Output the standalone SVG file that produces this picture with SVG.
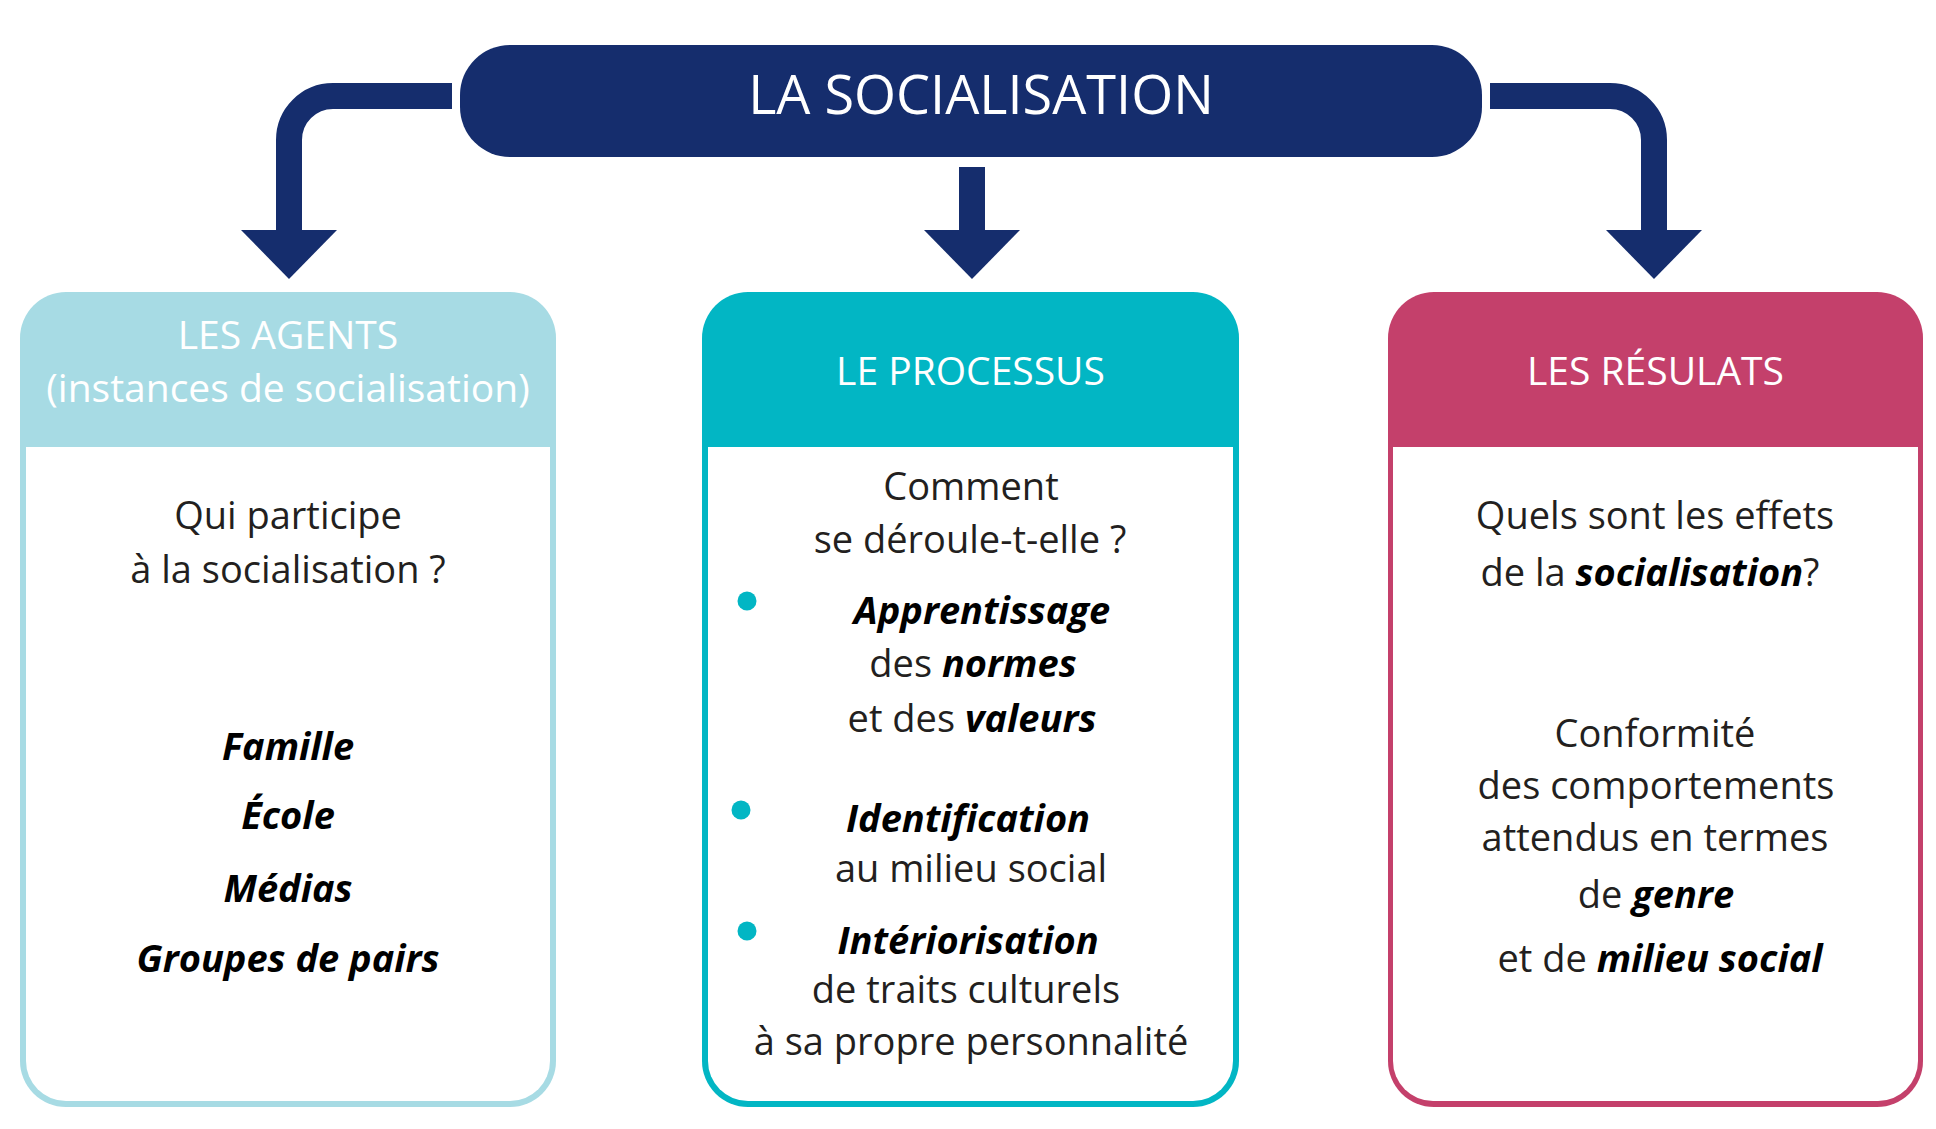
<svg xmlns="http://www.w3.org/2000/svg" width="1936" height="1129" viewBox="0 0 1936 1129">
<style>
.hd{font-family:"Open Sans","Liberation Sans",sans-serif;font-size:39px;fill:#ffffff;text-anchor:middle}
.bd{font-family:"Open Sans","Liberation Sans",sans-serif;font-size:38px;fill:#231f20;text-anchor:middle}
.bi{font-weight:bold;font-style:italic;fill:#000000}
.conn{fill:none;stroke:#152d6d;stroke-width:26}
.head{fill:#152d6d}
.dot{fill:#02b6c4}
</style>
<rect width="1936" height="1129" fill="#ffffff"/>
<g id="connectors">
  <path class="conn" d="M452,96 H333 A44,44 0 0 0 289,140 V232"/>
  <polygon class="head" points="241,230 337,230 289,279"/>
  <path class="conn" d="M972,167 V232"/>
  <polygon class="head" points="924,230 1020,230 972,279"/>
  <path class="conn" d="M1490,96 H1610 A44,44 0 0 1 1654,140 V232"/>
  <polygon class="head" points="1606,230 1702,230 1654,279"/>
</g>
<g id="title">
  <rect x="460" y="45" width="1022" height="112" rx="50" ry="50" fill="#152d6d"/>
  <text x="981" y="114" font-family="'Open Sans','Liberation Sans',sans-serif" font-size="54" fill="#ffffff" text-anchor="middle">LA SOCIALISATION</text>
</g>
<g id="agents">
  <rect x="20" y="292" width="536" height="815" rx="46" ry="46" fill="#a7dbe4"/>
  <path d="M26,447 H550 V1061 A40,40 0 0 1 510,1101 H66 A40,40 0 0 1 26,1061 Z" fill="#ffffff"/>
  <text class="hd" x="288" y="349">LES AGENTS</text>
  <text class="hd" x="288" y="402" font-size="40">(instances de socialisation)</text>
  <text class="bd" x="288" y="529">Qui participe</text>
  <text class="bd" x="288" y="583">à la socialisation ?</text>
  <text class="bd bi" x="288" y="760">Famille</text>
  <text class="bd bi" x="288" y="829">École</text>
  <text class="bd bi" x="288" y="902">Médias</text>
  <text class="bd bi" x="288" y="972">Groupes de pairs</text>
</g>
<g id="processus">
  <rect x="702" y="292" width="537" height="815" rx="46" ry="46" fill="#02b6c4"/>
  <path d="M708,447 H1233 V1061 A40,40 0 0 1 1193,1101 H748 A40,40 0 0 1 708,1061 Z" fill="#ffffff"/>
  <text class="hd" x="970.5" y="385">LE PROCESSUS</text>
  <text class="bd" x="971" y="500">Comment</text>
  <text class="bd" x="970" y="553">se déroule-t-elle ?</text>
  <circle class="dot" cx="747" cy="601" r="9.5"/>
  <text class="bd bi" x="982" y="624">Apprentissage</text>
  <text class="bd" x="973" y="677">des <tspan class="bi">normes</tspan></text>
  <text class="bd" x="972" y="732">et des <tspan class="bi">valeurs</tspan></text>
  <circle class="dot" cx="741" cy="810" r="9.5"/>
  <text class="bd bi" x="968" y="832">Identification</text>
  <text class="bd" x="971" y="882">au milieu social</text>
  <circle class="dot" cx="747" cy="931" r="9.5"/>
  <text class="bd bi" x="968" y="954">Intériorisation</text>
  <text class="bd" x="966" y="1003">de traits culturels</text>
  <text class="bd" x="971" y="1055">à sa propre personnalité</text>
</g>
<g id="resultats">
  <rect x="1388" y="292" width="535" height="815" rx="46" ry="46" fill="#c4406b"/>
  <path d="M1393,447 H1918 V1061 A40,40 0 0 1 1878,1101 H1433 A40,40 0 0 1 1393,1061 Z" fill="#ffffff"/>
  <text class="hd" x="1655.5" y="385">LES RÉSULATS</text>
  <text class="bd" x="1655" y="529">Quels sont les effets</text>
  <text class="bd" x="1650" y="586">de la <tspan class="bi">socialisation</tspan>?</text>
  <text class="bd" x="1655" y="747">Conformité</text>
  <text class="bd" x="1656" y="799">des comportements</text>
  <text class="bd" x="1655" y="851">attendus en termes</text>
  <text class="bd" x="1656" y="908">de <tspan class="bi">genre</tspan></text>
  <text class="bd" x="1660" y="972">et de <tspan class="bi">milieu social</tspan></text>
</g>
</svg>
